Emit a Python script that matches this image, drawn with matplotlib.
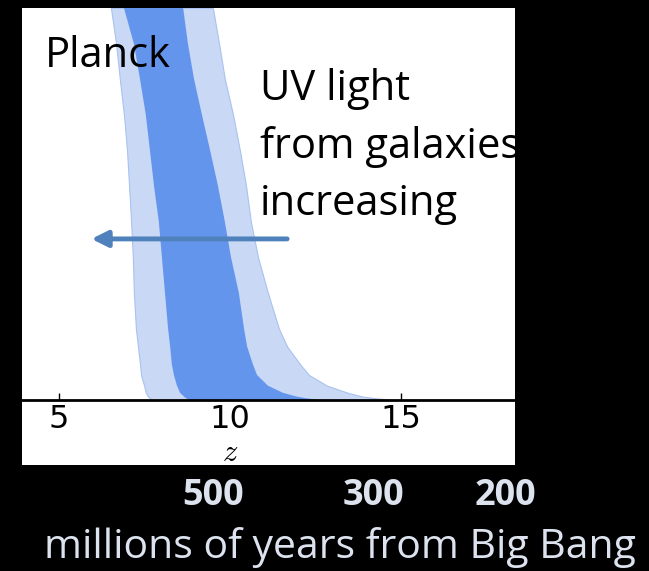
import numpy as np
import matplotlib.pyplot as plt
import matplotlib.patheffects as pe
from matplotlib.patches import Rectangle

plt.rcParams['mathtext.fontset'] = 'cm'

# ionized fraction levels and the redshift edges of the Planck bands
xe = [0.0, 0.005, 0.01, 0.02, 0.04, 0.07, 0.1, 0.15, 0.2, 0.3, 0.4, 0.5, 0.6, 0.7, 0.8, 0.9, 1.0, 1.1]
z_2sig_lo = [7.75, 7.66, 7.60, 7.54, 7.49, 7.40, 7.37, 7.31, 7.25, 7.19, 7.16, 7.11,
             7.05, 6.99, 6.90, 6.78, 6.67, 6.52]
z_1sig_lo = [8.83, 8.71, 8.65, 8.54, 8.45, 8.36, 8.30, 8.25, 8.19, 8.10, 8.01, 7.92,
             7.78, 7.66, 7.54, 7.37, 7.19, 6.90]
z_1sig_hi = [12.63, 12.22, 11.93, 11.55, 11.11, 10.79, 10.67, 10.50, 10.41, 10.26, 10.03, 9.85,
             9.65, 9.42, 9.18, 8.95, 8.77, 8.63]
z_2sig_hi = [14.82, 14.24, 13.86, 13.45, 12.84, 12.31, 12.05, 11.67, 11.43, 11.11, 10.82, 10.61,
             10.47, 10.29, 10.09, 9.85, 9.68, 9.50]

z_ticks = [5, 10, 15]
age_labels = ['500', '300', '200']
age_x = [0.328, 0.575, 0.778]

arrow_start = (11.67, 0.452)
arrow_end = (5.95, 0.452)

fig = plt.figure(figsize=(6.49, 5.71), dpi=100, facecolor='black')

# white slide panel behind the plot
fig.patches.append(Rectangle((0.0339, 0.1856), 0.7596, 0.8004, transform=fig.transFigure,
                             facecolor='white', edgecolor='none', zorder=-5))

ax = fig.add_axes([0.0339, 0.2995, 0.7596, 0.6865])
ax.set_zorder(2)
ax.set_facecolor('white')

ax.fill_betweenx(xe, z_2sig_lo, z_2sig_hi, facecolor='#c9d8f5', edgecolor='#a9c2f0', lw=0.8, zorder=1)
ax.fill_betweenx(xe, z_1sig_lo, z_1sig_hi, facecolor='#6495ed', edgecolor='none', zorder=2)

ax.set_xlim(3.92, 18.33)
ax.set_ylim(0, 1.1)
ax.set_xticks(z_ticks)
ax.set_yticks([])
ax.tick_params(axis='x', direction='in', length=5, width=1, pad=3, labelsize=23, colors='black')
for s in ['left', 'right', 'top']:
    ax.spines[s].set_visible(False)
ax.spines['bottom'].set_linewidth(2)
ax.spines['bottom'].set_zorder(5)

ax.set_xlabel('$z$', fontsize=22)
ax.xaxis.set_label_coords(0.422, -0.097)

ann = ax.annotate('', xy=arrow_end, xytext=arrow_start,
                  arrowprops=dict(arrowstyle='-|>', lw=3.5, color='#4f81bd',
                                  mutation_scale=24, shrinkA=0, shrinkB=0), zorder=4)
ann.arrow_patch.set_path_effects([pe.SimplePatchShadow(offset=(1.5, -1.5), alpha=0.35), pe.Normal()])

txt = dict(family='Open Sans', fontsize=30, color='black', transform=ax.transAxes, clip_on=True)
ax.text(0.0467, 0.849, 'Planck', va='baseline', **txt)
for line, yb in zip(['UV light', 'from galaxies', 'increasing'], [0.765, 0.617, 0.472]):
    ax.text(0.483, yb, line, va='baseline', **txt)

for lab, xx in zip(age_labels, age_x):
    fig.text(xx, 0.1156, lab, ha='center', va='baseline', family='Open Sans',
             fontweight='bold', fontsize=26, color='#dce3ef')
fig.text(0.524, 0.0228, 'millions of years from Big Bang', ha='center', va='baseline',
         family='Open Sans', fontsize=29.5, color='#dce3ef')

fig.savefig('out.png', dpi=100, facecolor='black')
